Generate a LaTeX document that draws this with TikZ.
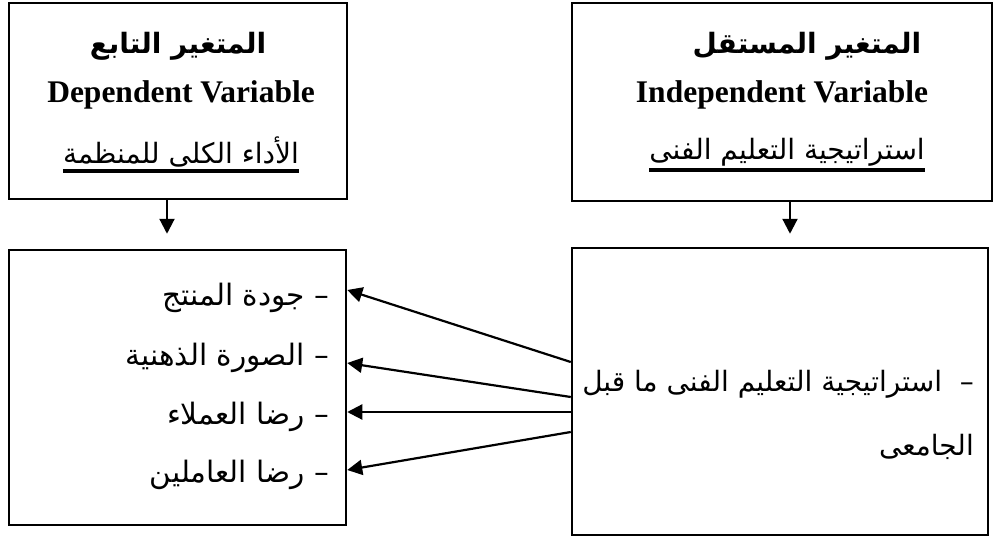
\documentclass[tikz,border=0pt]{standalone}
\usepackage{fontspec}
\setmainfont{Liberation Serif}
\newfontfamily\arabicfont[Script=Arabic]{DejaVu Sans}
\TeXXeTstate=1
\usetikzlibrary{positioning,arrows.meta}

\newcommand{\artxt}[1]{{\arabicfont\beginR #1\endR}}

\begin{document}
\begin{tikzpicture}[x=1pt,y=-1pt]
  \tikzset{
  box/.style={draw,line width=2.5pt,inner sep=0pt},
  head/.style={inner sep=0pt,font=\fontsize{31.5}{36}\selectfont\bfseries},
  arhead/.style={inner sep=0pt,font=\fontsize{28}{36}\selectfont\bfseries},
  sub/.style={inner sep=0pt,font=\fontsize{28}{32}\selectfont},
  item/.style={inner sep=0pt,anchor=east,font=\fontsize{29.5}{32}\selectfont},
  ul/.style={line width=4pt},
  arr/.style={line width=2.2pt,-{Triangle[length=15pt,width=15pt]}},
  }
  \useasboundingbox (0,0) rectangle (994,538);
  % the boxes
  \node[box,minimum width=338pt,minimum height=196pt] (dep) at (178,101) {};
  \node[box,minimum width=420pt,minimum height=198pt] (ind) at (782,102) {};
  \node[box,minimum width=337pt,minimum height=275pt] (deplist) at (177.5,387.5) {};
  \node[box,minimum width=416pt,minimum height=287pt] (indlist) at (780,391.5) {};

  % the titles
  \node[arhead] (deptitle) at (178,46) {\artxt{المتغير التابع}};
  \node[head] (depen) at (181,95) {Dependent Variable};
  \node[sub] (depsub) at (181,152) {\artxt{الأداء الكلى للمنظمة}};
  \draw[ul] ([yshift=-4pt]depsub.south west) -- ([yshift=-4pt]depsub.south east);

  \node[arhead] (indtitle) at (807,46) {\artxt{المتغير المستقل}};
  \node[head] (inden) at (782,95) {Independent Variable};
  \node[sub] (indsub) at (787,152) {\artxt{استراتيجية التعليم الفنى}};
  \draw[ul] ([yshift=-4pt]indsub.south west) -- ([yshift=-4pt]indsub.south east);

  % the lists
  \node[item] (it1) at (329,298) {\artxt{–\ جودة المنتج}};
  \node[item] (it2) at (329,358) {\artxt{–\ الصورة الذهنية}};
  \node[item] (it3) at (329,417) {\artxt{–\ رضا العملاء}};
  \node[item] (it4) at (329,475) {\artxt{–\ رضا العاملين}};

  \node[item,align=right,font=\fontsize{28}{64}\selectfont] (strat) at (974,415)
    {\artxt{–\ \ استراتيجية التعليم الفنى ما قبل}\\\artxt{الجامعى}};

  % the connections
  \draw[arr,shorten >=15pt] ([xshift=-11pt]dep.south) -- ([xshift=-10.5pt]deplist.north);
  \draw[arr,shorten >=13pt] ([xshift=8pt]ind.south) -- ([xshift=10pt]indlist.north);
  \foreach \a/\b in {29.5/97.5,-5.5/24.5,-20.5/-24.5,-40.5/-82.5}
    \draw[arr] ([yshift=\a pt]indlist.west) -- ([yshift=\b pt]deplist.east);
\end{tikzpicture}
\end{document}
